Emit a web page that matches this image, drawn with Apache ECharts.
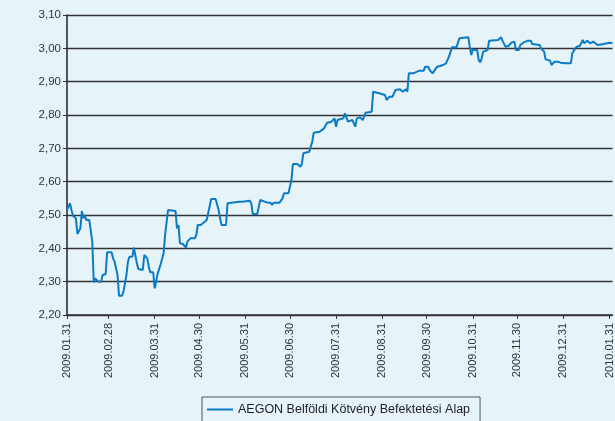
<!DOCTYPE html>
<html>
<head>
<meta charset="utf-8">
<script src="https://cdn.jsdelivr.net/npm/echarts@6/dist/echarts.min.js"></script>
<style>
html,body{margin:0;padding:0;background:#e6f4fa;}
#c{width:615px;height:421px;}
</style>
</head>
<body>
<div id="c"></div>
<script>
var seriesName = 'AEGON Belföldi Kötvény Befektetési Alap';
var tickLabels = ['2009.01.31','2009.02.28','2009.03.31','2009.04.30','2009.05.31','2009.06.30','2009.07.31','2009.08.31','2009.09.30','2009.10.31','2009.11.30','2009.12.31','2010.01.31'];
var yTicks = [2.2,2.3,2.4,2.5,2.6,2.7,2.8,2.9,3.0,3.1];
var dates = [
'2009-01-31','2009-02-02','2009-02-03','2009-02-04','2009-02-06','2009-02-07','2009-02-08','2009-02-09','2009-02-10','2009-02-11','2009-02-12','2009-02-13','2009-02-15','2009-02-17','2009-02-18','2009-02-19','2009-02-20','2009-02-21','2009-02-23','2009-02-24','2009-02-26','2009-02-27',
'2009-03-02','2009-03-03','2009-03-04','2009-03-06','2009-03-07','2009-03-09','2009-03-10','2009-03-11','2009-03-12','2009-03-13','2009-03-14','2009-03-16','2009-03-17','2009-03-18','2009-03-19','2009-03-20','2009-03-23','2009-03-24','2009-03-26','2009-03-27','2009-03-28','2009-03-30','2009-03-31',
'2009-04-01','2009-04-02','2009-04-04','2009-04-05','2009-04-06','2009-04-07','2009-04-09','2009-04-10','2009-04-14','2009-04-15','2009-04-16','2009-04-17','2009-04-19','2009-04-21','2009-04-22','2009-04-24','2009-04-27','2009-04-28','2009-04-29',
'2009-05-01','2009-05-05','2009-05-08','2009-05-11','2009-05-13','2009-05-14','2009-05-15','2009-05-18','2009-05-19','2009-05-20','2009-05-27','2009-05-28','2009-05-29',
'2009-06-03','2009-06-04','2009-06-05','2009-06-08','2009-06-09','2009-06-10','2009-06-13','2009-06-15','2009-06-17','2009-06-18','2009-06-19','2009-06-23','2009-06-25','2009-06-26','2009-06-29',
'2009-07-01','2009-07-02','2009-07-05','2009-07-07','2009-07-08','2009-07-09','2009-07-10','2009-07-13','2009-07-15','2009-07-16','2009-07-20','2009-07-23','2009-07-25','2009-07-28','2009-07-30','2009-07-31',
'2009-08-01','2009-08-05','2009-08-06','2009-08-08','2009-08-11','2009-08-13','2009-08-14','2009-08-16','2009-08-18','2009-08-20','2009-08-24','2009-08-25','2009-08-26','2009-08-29',
'2009-09-02','2009-09-03','2009-09-05','2009-09-07','2009-09-09','2009-09-10','2009-09-12','2009-09-14','2009-09-16','2009-09-17','2009-09-18','2009-09-21','2009-09-22','2009-09-25','2009-09-28','2009-09-29',
'2009-10-01','2009-10-02','2009-10-04','2009-10-07','2009-10-09','2009-10-11','2009-10-13','2009-10-15','2009-10-17','2009-10-20','2009-10-22','2009-10-28','2009-10-29','2009-10-30','2009-10-31',
'2009-11-03','2009-11-04','2009-11-05','2009-11-06','2009-11-07','2009-11-10','2009-11-11','2009-11-17','2009-11-19','2009-11-20','2009-11-22','2009-11-24','2009-11-26','2009-11-28','2009-11-29',
'2009-12-01','2009-12-02','2009-12-04','2009-12-07','2009-12-09','2009-12-10','2009-12-15','2009-12-16','2009-12-18','2009-12-19','2009-12-22','2009-12-23','2009-12-25','2009-12-27','2009-12-29',
'2010-01-01','2010-01-05','2010-01-06','2010-01-07','2010-01-09','2010-01-11','2010-01-13','2010-01-14','2010-01-16','2010-01-18','2010-01-20','2010-01-23','2010-01-27','2010-01-31','2010-02-02'
];
var values = [
2.515,2.535,2.515,2.498,2.490,2.443,2.443,2.460,2.512,2.490,2.500,2.485,2.485,2.420,2.298,2.310,2.305,2.300,2.300,2.320,2.323,2.388,
2.388,2.370,2.360,2.320,2.258,2.258,2.270,2.265,2.320,2.360,2.375,2.375,2.402,2.400,2.355,2.338,2.335,2.380,2.370,2.345,2.328,2.328,2.280,
2.300,2.325,2.352,2.355,2.385,2.440,2.515,2.515,2.512,2.460,2.470,2.415,2.413,2.402,2.420,2.430,2.430,2.440,2.470,
2.470,2.485,2.548,2.548,2.515,2.490,2.470,2.470,2.535,2.540,2.540,2.545,2.540,
2.543,2.535,2.503,2.503,2.507,2.545,2.540,2.537,2.537,2.530,2.537,2.537,2.550,2.565,2.565,
2.605,2.653,2.653,2.645,2.653,2.685,2.690,2.690,2.720,2.747,2.750,2.760,2.777,2.780,2.790,2.765,
2.785,2.790,2.805,2.780,2.785,2.765,2.790,2.793,2.785,2.807,2.810,2.870,2.875,2.865,
2.860,2.845,2.855,2.855,2.875,2.870,2.877,2.870,2.877,2.870,2.925,2.925,2.922,2.933,2.933,2.945,
2.945,2.935,2.925,2.945,2.947,2.950,2.955,2.975,3.003,3.003,3.030,3.033,3.005,2.980,2.995,
2.995,2.965,2.958,2.970,2.990,2.995,3.023,3.025,3.033,3.023,3.005,3.007,3.017,3.020,2.995,
2.995,3.010,3.017,3.023,3.023,3.013,3.010,3.000,2.990,2.967,2.963,2.950,2.960,2.960,2.957,
2.955,2.955,2.985,2.993,3.005,3.007,3.025,3.015,3.023,3.015,3.020,3.010,3.013,3.017,3.015
];

function toTs(s){ var p = s.split(/[.\-]/); return Date.UTC(+p[0], +p[1]-1, +p[2]); }
var tickTs = tickLabels.map(toTs);
var labelMap = {};
tickTs.forEach(function(t,i){ labelMap[t] = tickLabels[i]; });
var data = dates.map(function(d,i){ return [toTs(d), values[i]]; });

var chart = echarts.init(document.getElementById('c'), null, {renderer:'canvas'});
chart.setOption({
  backgroundColor: '#e6f4fa',
  animation: false,
  grid: {left: 67, top: 15, right: 0, bottom: 106, containLabel: false},
  xAxis: {
    type: 'value',
    min: toTs('2009-01-31'),
    max: toTs('2010-02-02'),
    axisLine: {show: true, lineStyle: {color: '#333', width: 1.5}},
    axisTick: {show: true, customValues: tickTs, length: 4, inside: false, lineStyle: {color: '#333'}},
    axisLabel: {
      customValues: tickTs,
      rotate: 90,
      margin: 8,
      color: '#333',
      fontFamily: 'Liberation Sans, Arial, sans-serif',
      fontSize: 11,
      hideOverlap: false,
      showMinLabel: true,
      showMaxLabel: true,
      formatter: function(v){ return labelMap[v] || ''; }
    },
    splitLine: {show: false}
  },
  yAxis: {
    type: 'value',
    min: yTicks[0],
    max: yTicks[yTicks.length-1],
    interval: 0.1,
    axisLine: {show: true, lineStyle: {color: '#222', width: 1.5}},
    axisTick: {show: true, length: 4, lineStyle: {color: '#333'}},
    axisLabel: {
      color: '#333',
      margin: 6,
      fontFamily: 'Liberation Sans, Arial, sans-serif',
      fontSize: 11.5,
      formatter: function(v){ return v.toFixed(2).replace('.', ','); }
    },
    splitLine: {show: true, lineStyle: {color: '#333', width: 1.3}}
  },
  legend: {
    show: true,
    left: 202,
    top: 397,
    orient: 'horizontal',
    padding: [6, 10, 6, 5],
    itemWidth: 26,
    itemHeight: 2,
    itemGap: 3,
    icon: 'rect',
    borderColor: '#555',
    borderWidth: 1,
    textStyle: {color: '#222', fontFamily: 'Liberation Sans, Arial, sans-serif', fontSize: 12.5},
    data: [seriesName]
  },
  series: [{
    name: seriesName,
    type: 'line',
    data: data,
    symbol: 'none',
    showSymbol: false,
    lineStyle: {color: '#0a7bc6', width: 2},
    itemStyle: {color: '#0a7bc6'}
  }]
});
</script>
</body>
</html>
